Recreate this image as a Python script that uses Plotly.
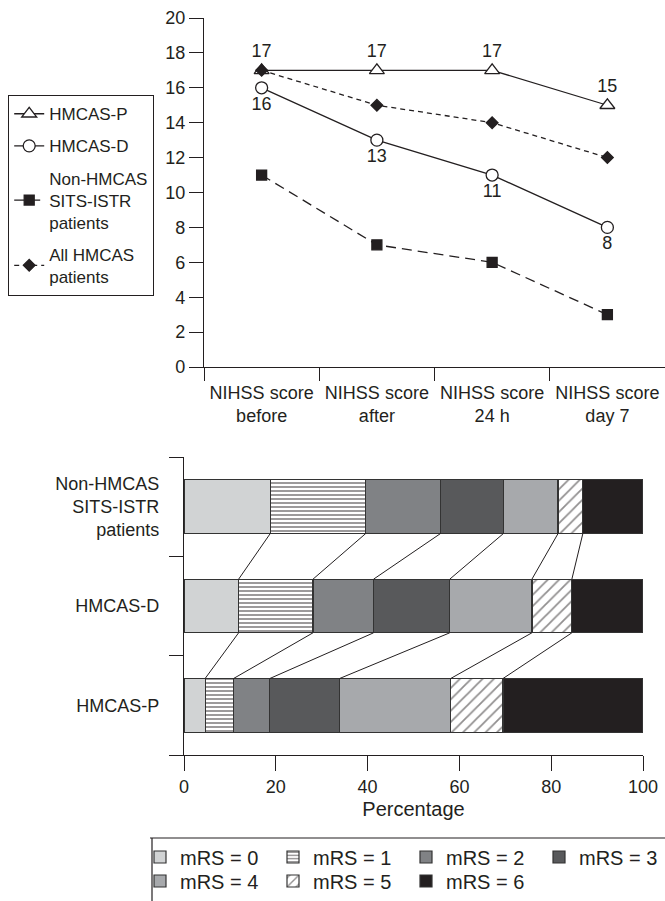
import plotly.graph_objects as go

# ---------------- data ----------------
timepoints = ["NIHSS score<br>before", "NIHSS score<br>after", "NIHSS score<br>24 h", "NIHSS score<br>day 7"]
hmcas_p = [17, 17, 17, 15]
hmcas_d = [16, 13, 11, 8]
non_hmcas = [11, 7, 6, 3]
all_hmcas = [17, 15, 14, 12]

groups = ["HMCAS-P", "HMCAS-D", "Non-HMCAS<br>SITS-ISTR<br>patients"]
group_pos = [0, 1, 2]
mrs_labels = ["mRS = 0", "mRS = 1", "mRS = 2", "mRS = 3", "mRS = 4", "mRS = 5", "mRS = 6"]
# percentages per mRS, ordered as groups (HMCAS-P, HMCAS-D, Non-HMCAS)
mrs_pct = [
    [4.6, 11.9, 18.8],
    [6.2, 16.2, 20.8],
    [7.9, 13.2, 16.3],
    [15.2, 16.6, 13.7],
    [24.2, 17.9, 11.9],
    [11.4, 8.7, 5.4],
    [30.5, 15.5, 13.1],
]

INK = "#231f20"
FONT = "Liberation Sans, Arial, Helvetica, sans-serif"
bar_colors = ["#d1d3d4", "white", "#808285", "#58595b", "#a7a9ac", "white", INK]
bar_patterns = ["", "-", "", "", "", "/", ""]
BAR_W = 0.54

fig = go.Figure()

# ---------------- top line chart ----------------
line_specs = [
    ("HMCAS-P", hmcas_p, "solid", "triangle-up", 13, "white", "top center"),
    ("HMCAS-D", hmcas_d, "solid", "circle", 12, "white", "bottom center"),
    ("Non-HMCAS<br>SITS-ISTR<br>patients", non_hmcas, "10px,6px", "square", 10, INK, None),
    ("All HMCAS<br>patients", all_hmcas, "5px,4px", "diamond", 9, INK, None),
]
for i, (name, vals, dash, sym, size, fill, tpos) in enumerate(line_specs):
    fig.add_trace(go.Scatter(
        x=timepoints, y=vals, name=name,
        mode="lines+markers+text" if tpos else "lines+markers",
        text=[str(v) for v in vals] if tpos else None,
        textposition=tpos,
        textfont=dict(size=18, color=INK, family=FONT),
        line=dict(color=INK, width=1.3, dash=dash),
        marker=dict(symbol=sym, size=size, color=fill, line=dict(color=INK, width=1.3)),
        xaxis="x", yaxis="y", legend="legend", legendgroup=f"g{i}",
        cliponaxis=False,
    ))

# ---------------- bottom stacked bars ----------------
for k, (lab, vals) in enumerate(zip(mrs_labels, mrs_pct)):
    fig.add_trace(go.Bar(
        y=group_pos, x=vals, name=lab, orientation="h", width=BAR_W,
        marker=dict(color=bar_colors[k], line=dict(color="#333333", width=1.2),
                    pattern=dict(shape=bar_patterns[k], fgcolor=INK, bgcolor="white",
                                 size=4 if k == 1 else 8, solidity=0.45 if k == 1 else 0.22)),
        xaxis="x2", yaxis="y2",
        legend="legend2" if k < 4 else "legend3",
    ))

# connector lines between cumulative boundaries of adjacent bars
cx, cy = [], []
for upper, lower in [(2, 1), (1, 0)]:
    cum_u, cum_l = 0.0, 0.0
    for k in range(len(mrs_labels) - 1):
        cum_u += mrs_pct[k][upper]
        cum_l += mrs_pct[k][lower]
        cx += [cum_u, cum_l, None]
        cy += [upper - BAR_W / 2, lower + BAR_W / 2, None]
fig.add_trace(go.Scatter(x=cx, y=cy, mode="lines", line=dict(color=INK, width=1),
                         showlegend=False, hoverinfo="skip", xaxis="x2", yaxis="y2"))

W, H = 665, 901
def px(x): return x / W
def py(y): return 1 - y / H

def axis_common(tickcolor=INK):
    return dict(showline=True, linecolor=INK, linewidth=1.2, showgrid=False, zeroline=False,
                automargin=False, tickangle=0,
                tickcolor=tickcolor, tickfont=dict(size=18, color=INK, family=FONT))

fig.update_layout(
    width=W, height=H, margin=dict(l=0, r=0, t=0, b=0, autoexpand=False),
    paper_bgcolor="white", plot_bgcolor="white",
    font=dict(family=FONT, color=INK, size=18),
    barmode="stack",
    xaxis=dict(**axis_common(), domain=[px(204), 1.0], anchor="y", type="category",
               range=[-0.5, 3.5], tickson="boundaries", ticks="outside", ticklen=13,
               ticklabelstandoff=9),
    yaxis=dict(**axis_common(), domain=[py(367), py(18)], anchor="x", range=[0, 20],
               tickvals=list(range(0, 21, 2)), ticks="outside", ticklen=14),
    xaxis2=dict(**axis_common(), domain=[px(184), px(643)], anchor="y2", range=[0, 100],
                tickvals=[0, 20, 40, 60, 80, 100], ticks="outside", ticklen=15,
                title=dict(text="Percentage", font=dict(size=20, color=INK, family=FONT), standoff=6)),
    yaxis2=dict(**axis_common("rgba(0,0,0,0)"), domain=[py(755), py(457)], anchor="x2", range=[-0.5, 2.5],
                tickvals=group_pos, ticktext=groups, ticks="outside", ticklen=20,
                minor=dict(tickvals=[-0.5, 0.5, 1.5, 2.5], ticks="outside", ticklen=14, tickcolor=INK)),
    legend=dict(x=px(8), y=py(95), xanchor="left", yanchor="top", bordercolor=INK, borderwidth=1.2,
                font=dict(size=17, color=INK, family=FONT), tracegroupgap=7, bgcolor="white"),
    legend2=dict(x=px(140), y=py(857), xanchor="left", yanchor="middle", orientation="h",
                 traceorder="normal",
                 entrywidth=88, font=dict(size=20, color=INK, family=FONT), bgcolor="rgba(0,0,0,0)"),
    legend3=dict(x=px(140), y=py(881), xanchor="left", yanchor="middle", orientation="h",
                 traceorder="normal",
                 entrywidth=88, font=dict(size=20, color=INK, family=FONT), bgcolor="rgba(0,0,0,0)"),
    shapes=[
        dict(type="line", xref="paper", yref="paper", x0=px(150), x1=1.0, y0=py(838), y1=py(838),
             line=dict(color=INK, width=1.2)),
        dict(type="line", xref="paper", yref="paper", x0=px(152), x1=px(152), y0=py(838), y1=0,
             line=dict(color=INK, width=1.2)),
    ],
)

# remove the default 8px page margin so the figure fills the 665x901 window exactly
fig.write_html(
    "out.html",
    config={"displayModeBar": False},
    post_script="document.documentElement.style.overflow='hidden';"
                "document.body.style.margin='0';document.body.style.overflow='hidden';",
)
